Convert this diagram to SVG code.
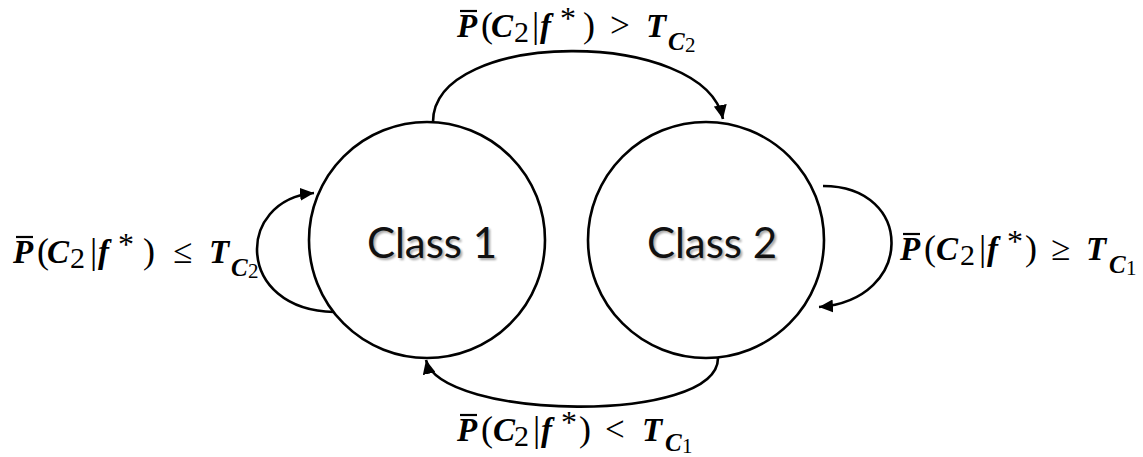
<svg xmlns="http://www.w3.org/2000/svg" width="1143" height="457" viewBox="0 0 1143 457">
<style>
.node{fill:#fff;stroke:#000;stroke-width:2.6}
.edge{fill:none;stroke:#000;stroke-width:2.6}
.cls{font-family:Lato,"Open Sans",sans-serif;font-size:42px;fill:#111}
.sh{font-family:Lato,"Open Sans",sans-serif;font-size:42px;fill:#000;opacity:0.35}
.bi{font-family:"Liberation Serif",serif;font-weight:bold;font-style:italic;font-size:33px}
.bis{font-family:"Liberation Serif",serif;font-weight:bold;font-style:italic;font-size:25px}
.p{font-family:"Liberation Serif",serif;font-size:36px}
.r{font-family:"Liberation Serif",serif;font-size:35px}
.rs{font-family:"Liberation Serif",serif;font-size:30px}
.st{font-family:"Liberation Serif",serif;font-size:32px}
.rss{font-family:"Liberation Serif",serif;font-size:21px}
.bar{stroke:#000;stroke-width:2.2}
</style>
<defs>
<marker id="arr" markerUnits="userSpaceOnUse" markerWidth="15" markerHeight="13" refX="14" refY="6.5" orient="auto">
<path d="M0,0 L14,6.5 L0,13 z" fill="#000"/>
</marker>
<filter id="blur" x="-10%" y="-10%" width="120%" height="120%"><feGaussianBlur stdDeviation="1.2"/></filter>
</defs>

<g id="edges">
<path class="edge" d="M433,122 C433,28 705,28 723,119" marker-end="url(#arr)"/>
<path class="edge" d="M718,358 C718,425 440,420 426,360" marker-end="url(#arr)"/>
<path class="edge" d="M334,312 C235,310 235,200 314,193" marker-end="url(#arr)"/>
<path class="edge" d="M823,186 C915,186 915,300 819,307" marker-end="url(#arr)"/>
</g>

<g id="class1">
<circle class="node" cx="427" cy="240" r="118"/>
<text class="sh" x="434" y="260" text-anchor="middle" textLength="130" filter="url(#blur)">Class 1</text>
<text class="cls" x="432" y="258" text-anchor="middle" textLength="130">Class 1</text>
</g>

<g id="class2">
<circle class="node" cx="706" cy="240" r="118"/>
<text class="sh" x="714" y="260" text-anchor="middle" textLength="130" filter="url(#blur)">Class 2</text>
<text class="cls" x="712" y="258" text-anchor="middle" textLength="130">Class 2</text>
</g>

<g id="label-top" transform="translate(457,37)">
<line class="bar" x1="3" y1="-26" x2="20" y2="-26"/>
<text><tspan class="bi" x="0" y="0">P</tspan><tspan class="p" x="24" y="0">(</tspan><tspan class="bi" x="34" y="0">C</tspan><tspan class="rs" x="57" y="5">2</tspan><tspan class="p" x="75" y="0">|</tspan><tspan class="bi" x="83" y="0">f</tspan><tspan class="st" x="103" y="-8">*</tspan><tspan class="p" x="126" y="0">)</tspan><tspan class="r" x="153" y="0">&gt;</tspan><tspan class="bi" x="189" y="0">T</tspan><tspan class="bis" x="211" y="13">C</tspan><tspan class="rss" x="228" y="15">2</tspan></text>
</g>

<g id="label-left" transform="translate(13,263)">
<line class="bar" x1="3" y1="-26" x2="20" y2="-26"/>
<text><tspan class="bi" x="0" y="0">P</tspan><tspan class="p" x="24" y="0">(</tspan><tspan class="bi" x="34" y="0">C</tspan><tspan class="rs" x="57" y="5">2</tspan><tspan class="p" x="77" y="0">|</tspan><tspan class="bi" x="85" y="0">f</tspan><tspan class="st" x="105" y="-8">*</tspan><tspan class="p" x="130" y="0">)</tspan><tspan class="r" x="160" y="0">≤</tspan><tspan class="bi" x="196" y="0">T</tspan><tspan class="bis" x="218" y="13">C</tspan><tspan class="rss" x="235" y="15">2</tspan></text>
</g>

<g id="label-right" transform="translate(900,260)">
<line class="bar" x1="3" y1="-26" x2="20" y2="-26"/>
<text><tspan class="bi" x="0" y="0">P</tspan><tspan class="p" x="24" y="0">(</tspan><tspan class="bi" x="36" y="0">C</tspan><tspan class="rs" x="60" y="5">2</tspan><tspan class="p" x="79" y="0">|</tspan><tspan class="bi" x="87" y="0">f</tspan><tspan class="st" x="107" y="-8">*</tspan><tspan class="p" x="125" y="0">)</tspan><tspan class="r" x="151" y="0">≥</tspan><tspan class="bi" x="186" y="0">T</tspan><tspan class="bis" x="209" y="13">C</tspan><tspan class="rss" x="226" y="15">1</tspan></text>
</g>

<g id="label-bottom" transform="translate(457,441)">
<line class="bar" x1="3" y1="-26" x2="20" y2="-26"/>
<text><tspan class="bi" x="0" y="0">P</tspan><tspan class="p" x="24" y="0">(</tspan><tspan class="bi" x="36" y="0">C</tspan><tspan class="rs" x="57" y="5">2</tspan><tspan class="p" x="76" y="0">|</tspan><tspan class="bi" x="84" y="0">f</tspan><tspan class="st" x="104" y="-8">*</tspan><tspan class="p" x="122" y="0">)</tspan><tspan class="r" x="148" y="0">&lt;</tspan><tspan class="bi" x="185" y="0">T</tspan><tspan class="bis" x="208" y="10">C</tspan><tspan class="rss" x="225" y="12">1</tspan></text>
</g>
</svg>
